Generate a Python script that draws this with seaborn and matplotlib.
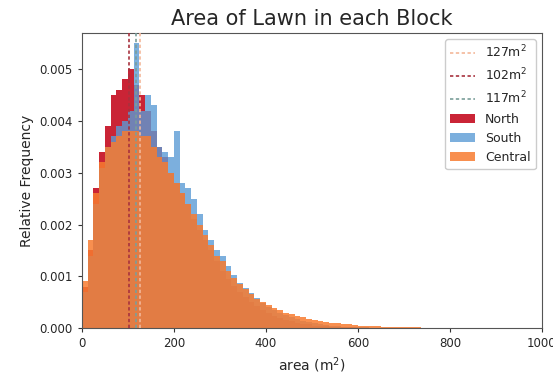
import numpy as np
import pandas as pd
import matplotlib
matplotlib.use("Agg")
import matplotlib.pyplot as plt
import seaborn as sns

# bin edges (m^2), width 12.5
bin_width = 12.5
bin_centers = np.arange(bin_width / 2, 1000, bin_width)

north = [0.0008, 0.0015, 0.0027, 0.0034, 0.0039, 0.0045, 0.0046, 0.0048, 0.0050, 0.0047,
         0.0045, 0.0042, 0.0038, 0.0035, 0.0033, 0.0030, 0.0028, 0.0026, 0.0024, 0.0021,
         0.0019, 0.0017, 0.0015, 0.0013, 0.0011, 0.00095, 0.00082, 0.0007, 0.0006, 0.0005,
         0.00042, 0.00035, 0.00029, 0.00024, 0.0002, 0.00016, 0.00013, 0.0001, 0.00008, 0.00007,
         0.00005, 0.00004, 0.00004, 0.00003, 0.00003, 0.00002, 0.00002, 0.00002, 0.00001, 0.00001,
         0.00001, 0.00001, 0.00001, 0.00001, 0.00001, 0.00001, 0.0, 0.0, 0.0, 0.0,
         0.0, 0.0, 0.0, 0.0, 0.0, 0.0, 0.0, 0.0, 0.0, 0.0,
         0.0, 0.0, 0.0, 0.0, 0.0, 0.0, 0.0, 0.0, 0.0, 0.0]

south = [0.0007, 0.0014, 0.0024, 0.0031, 0.0035, 0.0037, 0.0039, 0.0040, 0.0042, 0.0055,
         0.0042, 0.0045, 0.0043, 0.0035, 0.0034, 0.0033, 0.0038, 0.0028, 0.0027, 0.0025,
         0.0022, 0.0019, 0.0017, 0.0015, 0.0014, 0.0012, 0.00102, 0.00088, 0.00078, 0.00067,
         0.00058, 0.00049, 0.00041, 0.00035, 0.0003, 0.00025, 0.00021, 0.00017, 0.00014, 0.00011,
         0.00009, 0.00007, 0.00006, 0.00005, 0.00004, 0.00003, 0.00003, 0.00002, 0.00002, 0.00002,
         0.00001, 0.00001, 0.00001, 0.00001, 0.00001, 0.00001, 0.00001, 0.0, 0.0, 0.0,
         0.0, 0.0, 0.0, 0.0, 0.0, 0.0, 0.0, 0.0, 0.0, 0.0,
         0.0, 0.0, 0.0, 0.0, 0.0, 0.0, 0.0, 0.0, 0.0, 0.0]

central = [0.0009, 0.0017, 0.0026, 0.0032, 0.0035, 0.0036, 0.0037, 0.0038, 0.0038, 0.0038,
           0.0037, 0.0037, 0.0035, 0.0033, 0.0032, 0.0030, 0.0028, 0.0026, 0.0024, 0.0022,
           0.0020, 0.0018, 0.0016, 0.0014, 0.0013, 0.0011, 0.00097, 0.00085, 0.00075, 0.00065,
           0.00057, 0.0005, 0.00044, 0.00039, 0.00034, 0.0003, 0.00027, 0.00024, 0.00021, 0.00018,
           0.00016, 0.00014, 0.00012, 0.0001, 0.00009, 0.00008, 0.00007, 0.00006, 0.00005, 0.00005,
           0.00004, 0.00004, 0.00003, 0.00003, 0.00003, 0.00002, 0.00002, 0.00002, 0.00002, 0.00001,
           0.00001, 0.00001, 0.00001, 0.00001, 0.00001, 0.00001, 0.00001, 0.00001, 0.00001, 0.00001,
           0.00001, 0.0, 0.0, 0.0, 0.0, 0.0, 0.0, 0.0, 0.0, 0.0]

line_values = [127, 102, 117]
line_colors = ["#f4b89a", "#a8323e", "#7a9e9a"]

series_names = ["North", "South", "Central"]
series_colors = ["#c8182b", "#5b9bd5", "#f77c30"]
series_alpha = [0.95, 0.8, 0.85]

sns.set_style("white")
plt.rcParams['font.family'] = ['DejaVu Sans']

fig = plt.figure(figsize=(5.53, 3.78), dpi=100)
ax = fig.add_axes([0.148, 0.132, 0.832, 0.781])

for v, c in zip(line_values, line_colors):
    ax.axvline(v, color=c, linestyle=(0, (2, 1.5)), linewidth=1.2,
               label=f"{v}m$^2$", zorder=3)

for name, vals, col, a in zip(series_names, [north, south, central], series_colors, series_alpha):
    df = pd.DataFrame({"area": bin_centers, "freq": vals})
    sns.histplot(data=df, x="area", weights="freq", binwidth=bin_width, binrange=(0, 1000),
                 ax=ax, color=col, alpha=a, linewidth=0, element="bars", fill=True,
                 label=name, zorder=2)

ax.set_xlim(0, 1000)
ax.set_ylim(0, 0.0057)
ax.set_yticks([0, 0.001, 0.002, 0.003, 0.004, 0.005])
ax.set_yticklabels(["0.000", "0.001", "0.002", "0.003", "0.004", "0.005"])
ax.set_xticks([0, 200, 400, 600, 800, 1000])
ax.tick_params(axis='both', labelsize=8.5, length=3, left=True, bottom=True, color="#333333")
ax.set_xlabel("area (m$^2$)", fontsize=10)
ax.set_ylabel("Relative Frequency", fontsize=10)
ax.set_title("Area of Lawn in each Block", fontsize=15)
for s in ax.spines.values():
    s.set_color("#555555")
    s.set_linewidth(0.8)

ax.legend(loc="upper right", fontsize=9, frameon=True, framealpha=1, edgecolor="#cccccc")

fig.savefig("out.png", dpi=100)
